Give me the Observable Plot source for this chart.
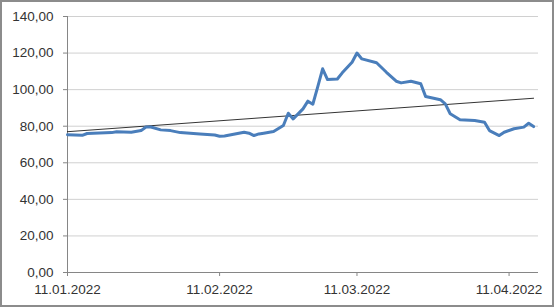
<!DOCTYPE html>
<html>
<head>
<meta charset="utf-8">
<script src="https://cdn.jsdelivr.net/npm/d3@7"></script>
<script src="https://cdn.jsdelivr.net/npm/@observablehq/plot@0.6"></script>
<style>
  html, body { margin: 0; padding: 0; background: #fff; }
  #wrap { position: relative; width: 555px; height: 308px; }
  #border { position: absolute; left: 0; top: 0; width: 554px; height: 307px; box-sizing: border-box; border: 2px solid #8c8c8c; pointer-events: none; }
  svg { display: block; }
</style>
</head>
<body>
<div id="wrap"><div id="border"></div></div>
<script>
// Series: dates and values
const dates = [
  "2022-01-11","2022-01-14","2022-01-15","2022-01-20","2022-01-21","2022-01-24","2022-01-26",
  "2022-01-27","2022-01-28","2022-01-30","2022-02-01","2022-02-03","2022-02-07","2022-02-10",
  "2022-02-11","2022-02-12","2022-02-16","2022-02-17","2022-02-18","2022-02-19","2022-02-20",
  "2022-02-22","2022-02-24","2022-02-25","2022-02-26","2022-02-28","2022-03-01","2022-03-02",
  "2022-03-03","2022-03-04","2022-03-05","2022-03-07","2022-03-08","2022-03-10","2022-03-11",
  "2022-03-12","2022-03-15","2022-03-17","2022-03-19","2022-03-20","2022-03-22","2022-03-24",
  "2022-03-25","2022-03-28","2022-03-29","2022-03-30","2022-04-01","2022-04-04","2022-04-06",
  "2022-04-07","2022-04-09","2022-04-10","2022-04-12","2022-04-14","2022-04-15","2022-04-16"
];
const values = [
  75.3, 75.0, 76.0, 76.5, 77.0, 76.7, 77.6,
  79.6, 79.6, 78.0, 77.6, 76.5, 75.8, 75.2,
  74.5, 74.7, 76.7, 76.2, 74.9, 75.8, 76.2,
  77.1, 80.4, 87.1, 84.0, 89.5, 93.7, 92.0,
  101.5, 111.4, 105.5, 105.8, 109.2, 115.0, 120.0,
  116.8, 114.7, 109.5, 104.6, 103.7, 104.6, 103.2,
  96.2, 94.5, 92.2, 86.8, 83.5, 83.1, 82.2,
  77.6, 74.9, 76.7, 78.6, 79.5, 81.6, 79.8
];
// Linear trend line endpoints
const trendDates = ["2022-01-11", "2022-04-16"];
const trendValues = [77.0, 95.3];
// Tick labels
const yTicks = [0, 20, 40, 60, 80, 100, 120, 140];
const xTickDates = ["2022-01-11", "2022-02-11", "2022-03-11", "2022-04-11"];
const xDomain = ["2022-01-11", "2022-04-17"];

const parse = d3.utcParse("%Y-%m-%d");
const series = dates.map((d, i) => ({date: parse(d), value: values[i]}));
const trend = trendDates.map((d, i) => ({date: parse(d), value: trendValues[i]}));
const xTicks = xTickDates.map(parse);
const fmtY = d => d.toFixed(2).replace(".", ",");
const fmtX = d3.utcFormat("%d.%m.%Y");

const chart = Plot.plot({
  width: 555,
  height: 308,
  marginLeft: 67,
  marginRight: 17,
  marginTop: 16,
  marginBottom: 36,
  style: {fontFamily: "'Liberation Sans', Arial, sans-serif", fontSize: "13.5px", color: "#333", background: "transparent"},
  x: {type: "utc", domain: xDomain.map(parse), label: null},
  y: {domain: [0, 140], label: null},
  marks: [
    Plot.ruleY(yTicks.filter(d => d > 0), {stroke: "#d0d0d0", strokeWidth: 1}),
    Plot.axisY(yTicks, {tickSize: 4, tickPadding: 10, tickFormat: fmtY, stroke: "#868686", fill: "#333", fontSize: 13.5, label: null}),
    Plot.axisX(xTicks, {tickSize: 4, tickPadding: 8, tickFormat: fmtX, stroke: "#868686", fill: "#333", fontSize: 13.5, label: null}),
    Plot.ruleX([parse(xDomain[0])], {stroke: "#868686", strokeWidth: 1}),
    Plot.ruleY([0], {stroke: "#868686", strokeWidth: 1}),
    Plot.line(trend, {x: "date", y: "value", stroke: "#000", strokeWidth: 0.8}),
    Plot.line(series, {x: "date", y: "value", stroke: "#4a7ebb", strokeWidth: 3, strokeLinejoin: "round", strokeLinecap: "round"})
  ]
});
document.getElementById("wrap").appendChild(chart);
</script>
</body>
</html>
